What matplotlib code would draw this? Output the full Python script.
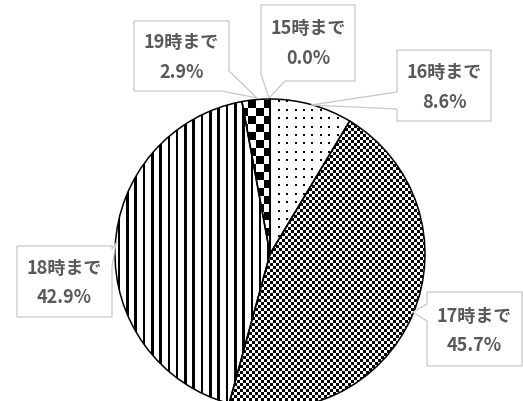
import numpy as np
import matplotlib
matplotlib.use("Agg")
import matplotlib.pyplot as plt
from matplotlib.patches import Polygon

plt.rcParams['font.family'] = ['Noto Sans CJK JP', 'DejaVu Sans']

# データ
labels = ['15時まで', '16時まで', '17時まで', '18時まで', '19時まで']
values = [0.0, 8.6, 45.7, 42.9, 2.9]

W, H = 523, 402
fig = plt.figure(figsize=(W / 100, H / 100), dpi=100)
ax = fig.add_axes([0, 0, 1, 1])

cx, cy, r = 270, H - 255, 155
wedges, _ = ax.pie(values, startangle=90, counterclock=False,
                   center=(cx, cy), radius=r,
                   wedgeprops=dict(facecolor='none', edgecolor='black', linewidth=1.1))

# 模様 (ピクセル単位)
yy, xx = np.mgrid[0:H, 0:W].astype(float)
blank = np.ones((H, W))
dots = np.where((np.mod(xx, 8.4) < 2) & (np.mod(yy, 8.4) < 2), 0.0, 1.0)
fine = ((xx // 3 + yy // 3) % 2).astype(float)
stripes = np.where(np.mod(xx - 1, 8.3) < 2.6, 0.0, 1.0)
big = ((xx // 8 + (yy + 3) // 8) % 2).astype(float)
patterns = [blank, dots, fine, stripes, big]

for w, pat in zip(wedges, patterns):
    w.set_zorder(3)
    im = ax.imshow(pat, cmap='gray', vmin=0, vmax=1, extent=(0, W, 0, H),
                   origin='upper', interpolation='nearest', zorder=2)
    im.set_clip_path(w)

# 吹き出し (ピクセル座標)
boxes = {
    '15時まで': [(261, 6), (355, 6), (355, 82), (285, 82), (269, 99), (261, 75)],
    '16時まで': [(397, 51), (491, 51), (491, 122), (397, 122), (397, 110), (311, 106), (397, 93)],
    '17時まで': [(427, 293), (522, 293), (522, 367), (427, 367), (427, 322), (413, 313), (427, 305)],
    '18時まで': [(17, 247), (112, 247), (112, 250), (116, 244), (112, 268), (112, 318), (17, 318)],
    '19時まで': [(134, 22), (229, 22), (229, 72), (257, 99), (222, 92), (134, 92)],
}
centers = {
    '15時まで': (308, 43),
    '16時まで': (444, 87),
    '17時まで': (474.5, 331),
    '18時まで': (64.5, 283),
    '19時まで': (181.5, 57),
}

for lab, v in zip(labels, values):
    pts = [(x, H - y) for x, y in boxes[lab]]
    ax.add_patch(Polygon(pts, closed=True, facecolor='white', edgecolor='#c8c8c8',
                         linewidth=0.9, zorder=4))
    tx, ty = centers[lab]
    ax.text(tx, H - ty + 15, lab, ha='center', va='center', fontsize=13,
            fontweight='bold', color='#595959', zorder=5)
    ax.text(tx, H - ty - 15, f'{v:.1f}%', ha='center', va='center', fontsize=13,
            fontweight='bold', color='#595959', zorder=5)

ax.set_xlim(0, W)
ax.set_ylim(0, H)
ax.set_aspect('equal')
ax.axis('off')

fig.savefig('out.png', dpi=100)
